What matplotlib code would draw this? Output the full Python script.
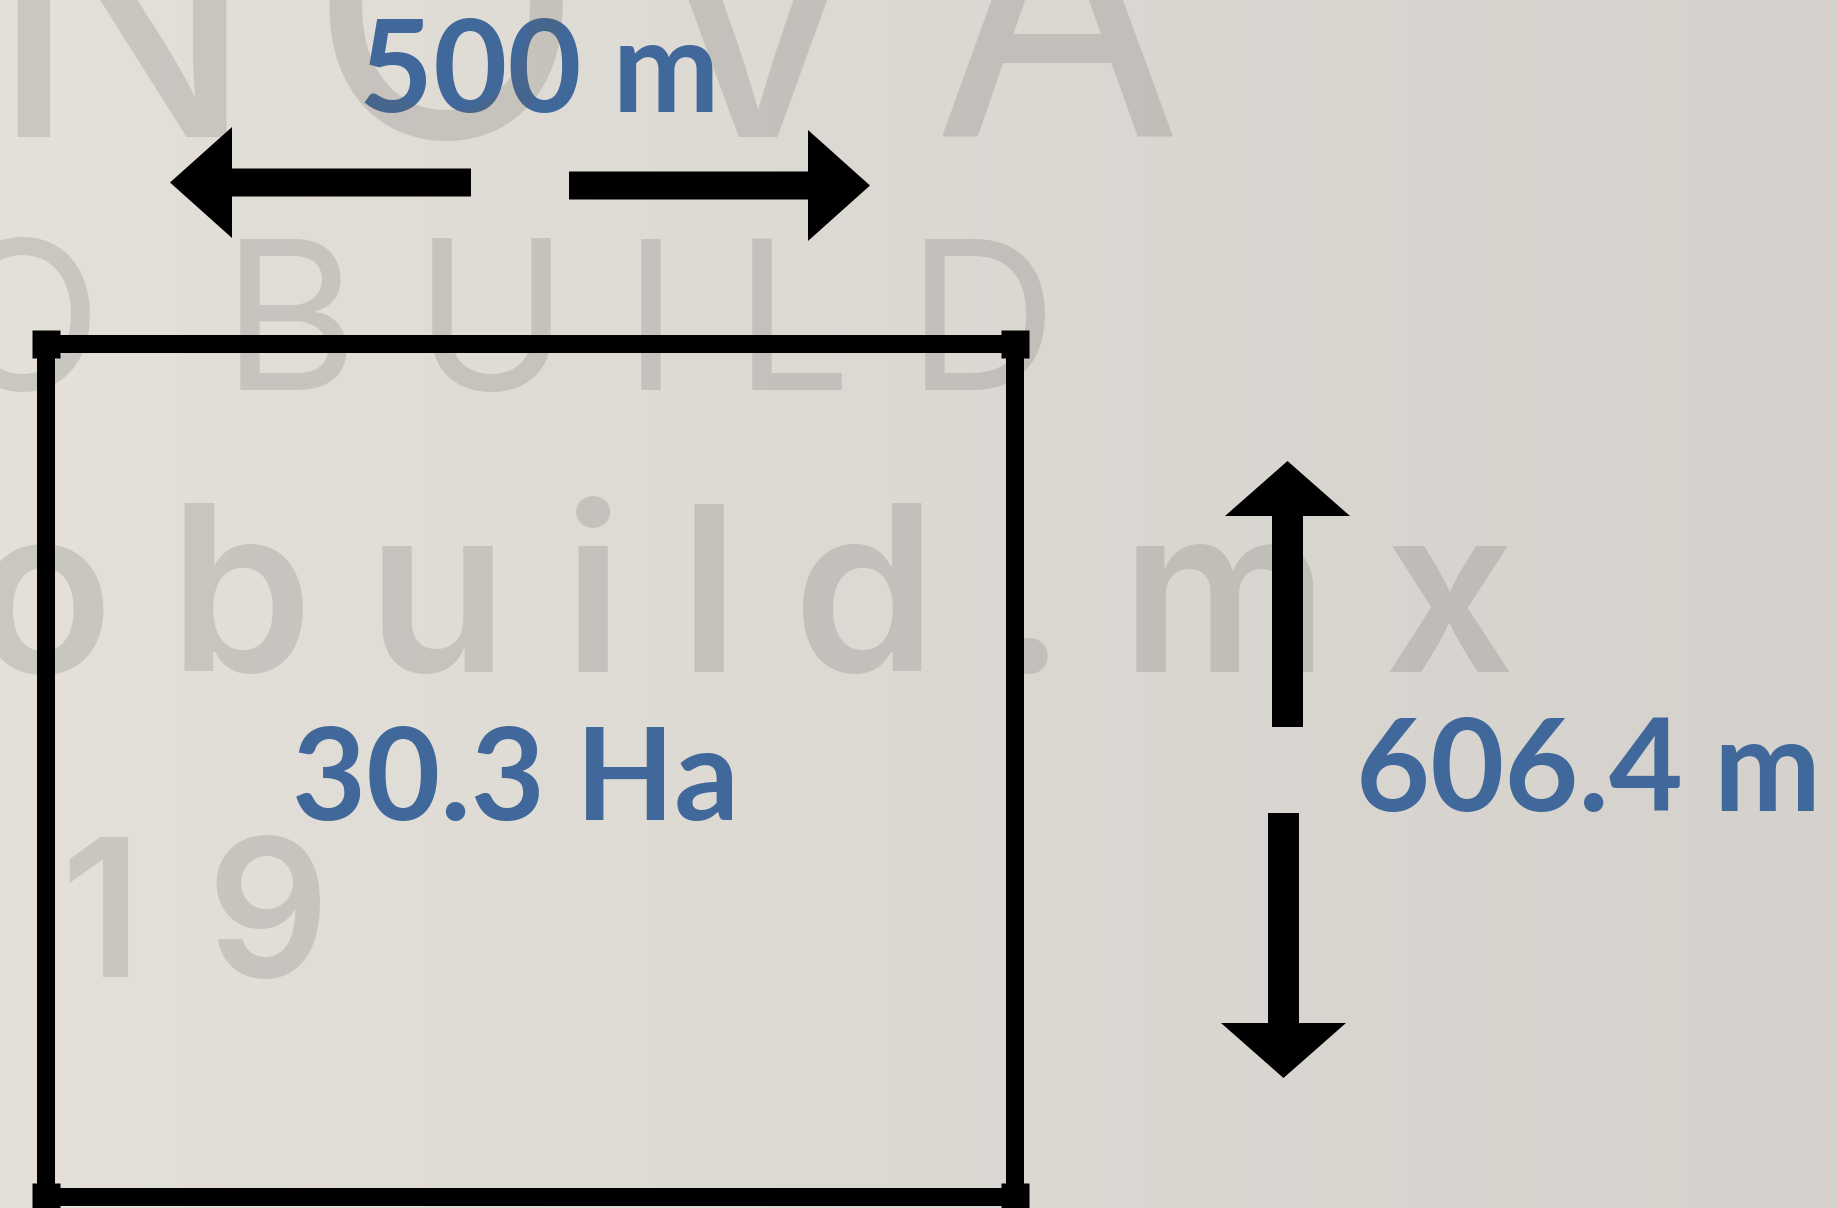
import numpy as np
import matplotlib
matplotlib.use("Agg")
import matplotlib.pyplot as plt

# figure size in pixels, axes use pixel units (y down)
W, H = 1838, 1208
DPI = 100

# values shown in the sketch
side_lengths_m = [500, 606.4]      # horizontal side, vertical side
area_values_ha = [30.3]
width_label = f"{side_lengths_m[0]:g} m"
height_label = f"{side_lengths_m[1]:g} m"
area_label = f"{area_values_ha[0]:g} Ha"

# background watermark rows
wm_rows = ["INNOVA", "TO BUILD", "innovatobuild.mx", "2019"]
wm_anchor_idx = [2, 3, 8, 2]          # char whose left edge is pinned
wm_anchor_x = [-15, 222, 168, 60]
wm_baseline = [137, 390, 672, 977]
wm_size = [260, 150, 166, 138]        # points
wm_weight = ["normal", "normal", "semibold", "semibold"]
wm_track = [50, 55, 55, 65]
wm_space = [10, 10, 10, 10]

# layout of the rectangle and arrows (pixels)
rect_x = [46, 1014.5]
rect_y = [344, 1197]
h_arrow_y = [182.5, 185.5]
h_arrow_tail = [471, 569]
h_arrow_tip = [170, 870]
v_arrow_x = [1287.5, 1283.5]
v_arrow_tail = [727, 813]
v_arrow_tip = [461, 1078]

BLUE = "#40689a"
LABEL_FONT = ["Lato", "DejaVu Sans"]
WM_FONT = ["Inter", "DejaVu Sans"]


def px2pt(px):
    return px * 72.0 / DPI


def tracked_text(ax, renderer, s, k, xk, y, size, track, space, **kw):
    widths = []
    for c in s:
        if c == " ":
            widths.append(space)
            continue
        t = ax.text(0, 0, c, fontsize=size, **kw)
        widths.append(t.get_window_extent(renderer).width)
        t.remove()
    xs = [0.0] * len(s)
    xs[k] = xk
    for i in range(k + 1, len(s)):
        xs[i] = xs[i - 1] + widths[i - 1] + track
    for i in range(k - 1, -1, -1):
        xs[i] = xs[i + 1] - widths[i] - track
    for c, x in zip(s, xs):
        if c != " ":
            ax.text(x, y, c, fontsize=size, ha="left", va="baseline", **kw)


fig = plt.figure(figsize=(W / DPI, H / DPI), dpi=DPI)
ax = fig.add_axes([0, 0, 1, 1])
ax.set_xlim(0, W)
ax.set_ylim(H, 0)
ax.axis("off")

# paper-like background, lighter on the left
left_c = np.array([229, 225, 218]) / 255
right_c = np.array([213, 210, 205]) / 255
t = np.linspace(0, 1, 200)[None, :, None] ** 0.8
bg = left_c * (1 - t) + right_c * t
bg = np.repeat(bg, 20, axis=0)
ax.imshow(bg, extent=[0, W, H, 0], aspect="auto", interpolation="bilinear", zorder=0)

renderer = fig.canvas.get_renderer()

# blue labels (under the watermark)
label_kw = dict(fontsize=92, fontweight="bold", color=BLUE, family=LABEL_FONT,
                ha="center", va="baseline", zorder=3)
ax.text(539, 112, width_label, **label_kw)
ax.text(515.5, 820, area_label, **label_kw)
ax.text(1588, 811, height_label, **label_kw)

# watermark
for s, k, xk, y, sz, wt, tr, sp in zip(wm_rows, wm_anchor_idx, wm_anchor_x,
                                       wm_baseline, wm_size, wm_weight,
                                       wm_track, wm_space):
    tracked_text(ax, renderer, s, k, xk, y, sz, tr, sp, family=WM_FONT,
                 fontweight=wt, color=(0.39, 0.37, 0.36), alpha=0.2, zorder=4)

# rectangle
lw = px2pt(18)
xs = [rect_x[0], rect_x[1], rect_x[1], rect_x[0], rect_x[0]]
ys = [rect_y[0], rect_y[0], rect_y[1], rect_y[1], rect_y[0]]
ax.plot(xs, ys, color="black", lw=lw, solid_joinstyle="miter",
        solid_capstyle="butt", zorder=5)
ax.plot(xs[:4], ys[:4], ls="none", marker="s", ms=px2pt(28), color="black",
        mec="none", zorder=6)

# horizontal arrows
for y0, x0, x1 in zip(h_arrow_y, h_arrow_tail, h_arrow_tip):
    ax.arrow(x0, y0, x1 - x0, 0, width=28, head_width=111, head_length=62,
             length_includes_head=True, color="black", lw=0, zorder=5)

# vertical arrows
for x0, y0, y1 in zip(v_arrow_x, v_arrow_tail, v_arrow_tip):
    ax.arrow(x0, y0, 0, y1 - y0, width=31, head_width=125, head_length=55,
             length_includes_head=True, color="black", lw=0, zorder=5)

fig.savefig("out.png", dpi=DPI)
